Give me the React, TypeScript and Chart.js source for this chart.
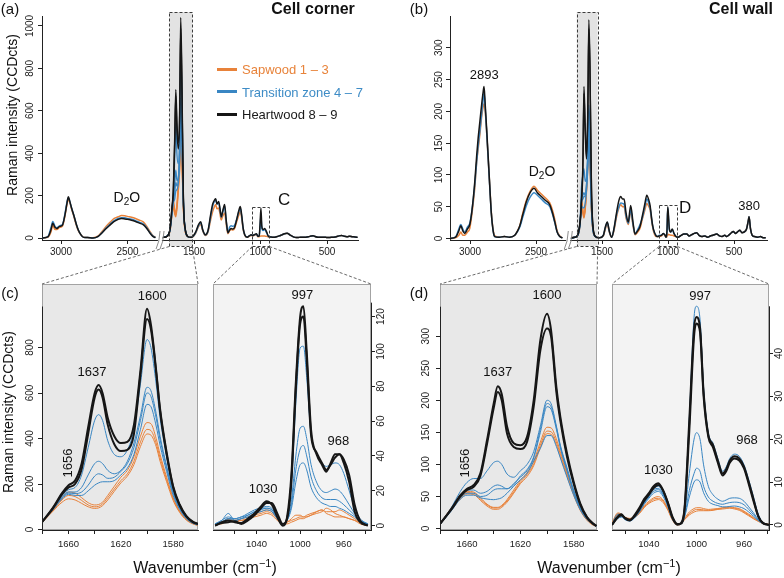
import React, { useEffect, useRef, useState } from 'react';
import { Chart, registerables } from 'chart.js';

Chart.register(...registerables);

const FONT = '"Liberation Sans", Arial, Helvetica, sans-serif';
const ORANGE = '#E8823A';
const BLUE = '#3986C3';
const BLACK = '#161616';

// ---------- top panel (a): rows [wavenumber, heartwood, transition, sapwood]
const TOPA_LEFT = [
  [3145, 0, 0, 0], [3100, 5, 5, 3], [3075, 40, 50, 30], [3062, 70, 78, 60], [3045, 50, 55, 40],
  [3032, 45, 48, 40], [3010, 55, 58, 50], [2990, 60, 62, 55], [2970, 110, 115, 105], [2955, 165, 170, 160],
  [2945, 195, 190, 180], [2935, 175, 175, 170], [2920, 140, 140, 135], [2905, 110, 110, 105], [2885, 65, 65, 60],
  [2870, 38, 38, 35], [2850, 15, 15, 15], [2830, 3, 3, 4], [2800, 2, 2, 2], [2760, 0, 0, 1],
  [2720, 8, 8, 10], [2690, 25, 27, 32], [2660, 45, 48, 55], [2630, 62, 66, 75], [2600, 78, 82, 92],
  [2570, 88, 92, 100], [2545, 92, 96, 106], [2520, 90, 95, 105], [2500, 88, 92, 102], [2470, 84, 88, 98],
  [2440, 78, 82, 92], [2410, 70, 74, 84], [2380, 62, 66, 75], [2355, 45, 48, 55], [2330, 22, 25, 30],
  [2310, 8, 10, 12], [2290, 2, 2, 3],
];
// rows [wavenumber, K1, K2, B1, B2, B3, B4, O1, O2, O3]
const TOPA_BOX = [
  [1740, 2, 2, 2, 2, 2, 2, 2, 2, 2],
  [1700, 10, 10, 10, 9, 9, 9, 8, 8, 8],
  [1680, 45, 44, 42, 40, 39, 38, 38, 36, 34],
  [1665, 150, 145, 135, 128, 124, 120, 128, 118, 110],
  [1656, 220, 210, 195, 180, 172, 165, 178, 162, 148],
  [1645, 480, 450, 380, 255, 215, 185, 135, 122, 112],
  [1637, 700, 670, 540, 320, 262, 222, 118, 108, 100],
  [1628, 540, 500, 390, 270, 245, 228, 162, 150, 140],
  [1618, 450, 420, 350, 285, 275, 258, 250, 235, 222],
  [1608, 600, 560, 500, 420, 400, 370, 360, 335, 315],
  [1600, 1040, 990, 880, 660, 635, 590, 505, 470, 450],
  [1592, 800, 750, 700, 540, 520, 480, 420, 400, 380],
  [1580, 200, 190, 185, 175, 170, 160, 150, 142, 135],
  [1565, 40, 38, 37, 35, 34, 32, 30, 28, 27],
  [1545, 5, 5, 5, 5, 5, 5, 5, 5, 5],
];
const TOPA_RIGHT = [
  [1545, 5, 5, 5], [1520, 3, 3, 3], [1490, 25, 22, 20], [1465, 65, 60, 55], [1450, 77, 72, 65],
  [1435, 40, 38, 35], [1415, 15, 14, 12], [1395, 35, 32, 28], [1375, 110, 100, 85], [1360, 160, 150, 125],
  [1345, 180, 175, 150], [1337, 185, 182, 158], [1328, 160, 160, 138], [1315, 172, 168, 142], [1305, 140, 135, 115],
  [1295, 100, 98, 85], [1283, 130, 125, 105], [1270, 158, 150, 118], [1258, 85, 80, 65], [1245, 25, 25, 20],
  [1232, 38, 52, 35], [1220, 45, 58, 40], [1208, 42, 55, 38], [1195, 50, 60, 45], [1180, 85, 85, 75],
  [1165, 125, 120, 105], [1152, 148, 140, 125], [1142, 110, 105, 95], [1130, 45, 42, 38], [1118, 14, 14, 12],
  [1100, 4, 4, 3], [1085, 10, 10, 8], [1070, 15, 14, 12], [1060, 12, 12, 10], [1050, 14, 14, 12],
  [1040, 18, 16, 14], [1030, 20, 18, 16], [1020, 8, 8, 6], [1010, 10, 8, 6], [1004, 60, 45, 8],
  [997, 140, 105, 10], [990, 55, 45, 10], [980, 40, 35, 10], [968, 45, 40, 9], [955, 30, 25, 8],
  [940, 8, 8, 5], [920, 5, 5, 4], [900, 3, 3, 3], [880, 6, 6, 6], [860, 10, 10, 10],
  [840, 15, 15, 15], [820, 20, 20, 20], [800, 22, 22, 22], [780, 15, 15, 15], [760, 8, 8, 8],
  [740, 3, 3, 3], [720, 2, 2, 2], [700, 4, 4, 4], [680, 3, 3, 3], [660, 4, 4, 4],
  [640, 6, 6, 6], [620, 9, 9, 9], [605, 11, 11, 11], [590, 7, 7, 7], [570, 4, 4, 4],
  [550, 3, 3, 3], [530, 4, 4, 4], [510, 3, 3, 3], [490, 2, 2, 2], [470, 3, 3, 3],
  [450, 4, 4, 4], [430, 6, 6, 6], [410, 10, 10, 10], [390, 12, 12, 12], [370, 8, 8, 8],
  [350, 6, 6, 6], [330, 8, 8, 8], [310, 6, 6, 6], [290, 5, 5, 5], [270, 3, 3, 3],
];

// ---------- top panel (b)
const TOPB_LEFT = [
  [3154, 0, 0, 0], [3110, 2, 2, 1], [3085, 12, 15, 5], [3070, 20, 22, 10], [3055, 12, 15, 5],
  [3040, 8, 10, 5], [3020, 15, 18, 10], [3002, 22, 24, 16], [2985, 45, 45, 40], [2964, 90, 85, 80],
  [2950, 130, 120, 120], [2939, 157, 145, 140], [2925, 185, 170, 165], [2910, 215, 200, 195], [2900, 232, 220, 208],
  [2894, 239, 230, 212], [2885, 210, 205, 200], [2875, 175, 170, 170], [2864, 134, 130, 130], [2850, 80, 78, 80],
  [2839, 40, 40, 42], [2825, 12, 12, 14], [2813, 3, 3, 4], [2780, 2, 2, 2], [2740, 3, 3, 3],
  [2700, 2, 2, 2], [2661, 5, 5, 5], [2640, 12, 11, 12], [2623, 20, 18, 20], [2600, 38, 34, 40],
  [2573, 58, 52, 60], [2545, 72, 65, 74], [2515, 79, 72, 82], [2490, 72, 68, 76], [2460, 66, 62, 70],
  [2430, 60, 56, 64], [2396, 53, 50, 56], [2375, 40, 38, 44], [2358, 26, 25, 30], [2340, 10, 10, 12],
  [2320, 3, 3, 4], [2300, 1, 1, 1],
];
const TOPB_BOX = [
  [1740, 1, 1, 1, 1, 1, 1, 1, 1, 1],
  [1700, 2, 2, 2, 2, 2, 2, 2, 2, 2],
  [1680, 8, 8, 8, 7, 7, 6, 7, 6, 6],
  [1665, 30, 28, 32, 28, 26, 24, 28, 26, 24],
  [1656, 60, 56, 80, 62, 56, 52, 62, 58, 54],
  [1645, 120, 110, 100, 68, 62, 48, 45, 42, 40],
  [1637, 239, 228, 110, 72, 66, 48, 36, 34, 32],
  [1628, 180, 170, 90, 68, 66, 55, 48, 46, 44],
  [1618, 130, 125, 95, 85, 82, 75, 78, 75, 72],
  [1608, 200, 190, 140, 130, 125, 110, 120, 115, 110],
  [1600, 344, 330, 210, 200, 195, 150, 165, 158, 152],
  [1592, 280, 270, 170, 160, 155, 125, 135, 130, 125],
  [1580, 80, 76, 60, 55, 52, 45, 48, 46, 44],
  [1565, 12, 12, 10, 10, 9, 8, 9, 8, 8],
  [1545, 2, 2, 2, 2, 2, 2, 2, 2, 2],
];
const TOPB_RIGHT = [
  [1545, 2, 2, 2], [1520, 1, 1, 1], [1490, 5, 5, 4], [1475, 18, 17, 15], [1460, 26, 25, 22],
  [1445, 12, 11, 10], [1427, 2, 2, 2], [1410, 15, 14, 12], [1389, 42, 38, 35], [1372, 60, 50, 48],
  [1358, 66, 56, 53], [1345, 62, 55, 50], [1333, 62, 54, 50], [1318, 40, 35, 32], [1301, 26, 24, 22],
  [1283, 52, 45, 42], [1265, 25, 22, 20], [1250, 7, 7, 6], [1230, 12, 14, 10], [1212, 19, 22, 16],
  [1195, 35, 32, 30], [1175, 55, 50, 45], [1161, 68, 62, 55], [1145, 60, 55, 50], [1136, 52, 48, 45],
  [1120, 25, 24, 22], [1111, 15, 14, 12], [1090, 4, 4, 3], [1080, 3, 3, 3], [1066, 4, 5, 3],
  [1050, 5, 5, 4], [1035, 8, 8, 7], [1025, 6, 6, 5], [1015, 2, 2, 2], [1008, 12, 10, 3],
  [1002, 50, 48, 7], [996, 35, 30, 6], [990, 15, 14, 6], [980, 10, 10, 5], [968, 15, 14, 5],
  [955, 8, 8, 4], [940, 3, 3, 3], [925, 2, 2, 2], [900, 5, 5, 5], [880, 7, 7, 7],
  [858, 7, 7, 7], [840, 4, 4, 4], [820, 6, 6, 6], [800, 8, 8, 8], [783, 9, 9, 9],
  [765, 5, 5, 5], [745, 3, 3, 3], [720, 4, 4, 4], [700, 2, 2, 2], [680, 4, 4, 4],
  [660, 5, 5, 5], [631, 7, 7, 7], [610, 4, 4, 4], [590, 3, 3, 3], [570, 5, 5, 5],
  [555, 3, 3, 3], [535, 6, 6, 6], [520, 9, 9, 9], [505, 11, 11, 11], [490, 8, 8, 8],
  [475, 10, 10, 10], [455, 13, 13, 13], [440, 9, 9, 9], [425, 10, 10, 10], [405, 15, 15, 15],
  [390, 30, 30, 30], [386, 34, 34, 34], [375, 15, 15, 15], [362, 5, 5, 5], [345, 3, 3, 3],
  [320, 2, 2, 2], [300, 3, 3, 3], [280, 1, 1, 1], [260, 1, 1, 1],
];

// ---------- zoom panels: rows [wavenumber, K1, K2, B1, B2, B3, B4, O1, O2, O3]
const ZC_LEFT = [
  [1680, 35, 35, 35, 35, 34, 34, 34, 33, 33],
  [1672, 95, 93, 92, 90, 88, 86, 85, 82, 80],
  [1665, 160, 155, 150, 145, 140, 135, 140, 130, 120],
  [1660, 195, 185, 175, 165, 160, 155, 165, 150, 135],
  [1655, 215, 200, 185, 165, 158, 150, 160, 145, 130],
  [1650, 290, 265, 240, 185, 165, 150, 140, 128, 115],
  [1645, 450, 420, 360, 240, 195, 170, 118, 108, 100],
  [1640, 600, 580, 480, 290, 235, 195, 108, 100, 93],
  [1637, 635, 615, 505, 300, 245, 205, 110, 102, 95],
  [1634, 600, 580, 480, 290, 240, 210, 120, 112, 105],
  [1630, 490, 460, 390, 260, 225, 210, 150, 140, 130],
  [1625, 410, 375, 330, 245, 230, 215, 190, 178, 168],
  [1620, 380, 345, 320, 260, 255, 240, 230, 215, 205],
  [1615, 385, 350, 350, 300, 290, 270, 260, 245, 235],
  [1610, 460, 420, 440, 380, 360, 330, 320, 300, 285],
  [1605, 700, 680, 640, 500, 480, 440, 410, 385, 365],
  [1600, 970, 925, 835, 625, 600, 550, 470, 440, 420],
  [1597, 900, 880, 800, 610, 585, 540, 465, 435, 415],
  [1593, 700, 690, 640, 510, 490, 455, 400, 380, 365],
  [1590, 530, 520, 490, 410, 395, 370, 330, 315, 300],
  [1585, 340, 330, 320, 280, 270, 255, 230, 220, 210],
  [1580, 190, 185, 180, 165, 160, 150, 140, 135, 128],
  [1575, 110, 105, 102, 95, 92, 88, 82, 78, 75],
  [1570, 60, 58, 56, 52, 50, 48, 46, 44, 42],
  [1565, 35, 33, 32, 30, 29, 28, 27, 26, 25],
  [1561, 25, 24, 23, 22, 21, 20, 20, 19, 18],
];
const ZC_RIGHT = [
  [1078, 0, 0, 1, 1, 1, 1, 1, 1, 1],
  [1072, 2, 1.5, 3, 3, 2, 2, 2, 2, 1],
  [1066, 3, 2, 7, 5, 4, 4, 4, 3, 3],
  [1060, 2, 2.5, 3, 4, 4, 3, 3, 3, 2],
  [1054, 1.5, 1, 4, 5, 5, 4, 4, 3, 3],
  [1048, 4, 3, 6, 7, 6, 5, 5, 4, 4],
  [1042, 7, 6, 8, 9, 8, 7, 7, 6, 5],
  [1036, 11, 10, 10, 10, 9, 8, 8, 7, 6],
  [1031, 14, 13, 11, 10, 10, 9, 9, 8, 7],
  [1026, 12, 13, 10, 9, 9, 8, 8, 7, 6],
  [1021, 5, 7, 5, 5, 4, 4, 4, 4, 3],
  [1016, 0, 1, 1, 1, 1, 1, 1, 1, 1],
  [1012, 5, 4, 5, 4, 3, 3, 2, 2, 1],
  [1008, 30, 26, 24, 15, 12, 10, 3, 4, 2],
  [1004, 82, 78, 70, 40, 32, 25, 4, 6, 3],
  [1000, 120, 116, 102, 56, 44, 35, 5, 6, 4],
  [997, 126, 120, 103, 57, 46, 36, 5, 5, 4],
  [994, 100, 95, 85, 50, 40, 32, 6, 5, 5],
  [990, 55, 52, 52, 35, 28, 22, 7, 6, 6],
  [985, 41, 42, 42, 25, 20, 16, 8, 7, 8],
  [980, 35, 36, 36, 20, 16, 13, 9, 8, 9],
  [976, 31, 32, 34, 19, 15, 12, 8, 10, 7],
  [972, 36, 35, 35, 20, 15, 11, 8, 9, 6],
  [968, 41, 39, 36, 21, 15, 11, 8, 7, 5],
  [964, 41, 41, 35, 20, 14, 10, 9, 6, 5],
  [960, 36, 38, 30, 17, 12, 9, 8, 5, 5],
  [955, 25, 29, 20, 12, 9, 7, 6, 4, 4],
  [950, 8, 12, 10, 7, 6, 5, 4, 3, 3],
  [945, 2, 3, 4, 3, 3, 2, 2, 2, 1],
  [938, 0, 0, 1, 1, 1, 1, 1, 1, 0],
];
const ZD_LEFT = [
  [1680, 8, 8, 8, 8, 7, 7, 8, 7, 7],
  [1672, 30, 29, 32, 30, 28, 27, 32, 30, 28],
  [1665, 52, 50, 58, 52, 48, 46, 50, 48, 46],
  [1660, 62, 60, 72, 60, 55, 52, 58, 56, 54],
  [1655, 68, 65, 78, 60, 55, 52, 57, 55, 53],
  [1650, 86, 82, 78, 55, 50, 48, 48, 46, 44],
  [1645, 138, 132, 90, 58, 52, 46, 38, 37, 35],
  [1640, 195, 188, 103, 66, 60, 45, 33, 32, 30],
  [1637, 222, 213, 105, 68, 62, 46, 33, 32, 30],
  [1634, 210, 200, 100, 66, 62, 48, 36, 35, 33],
  [1630, 159, 148, 85, 62, 62, 55, 45, 43, 41],
  [1625, 133, 127, 80, 68, 70, 66, 60, 57, 55],
  [1620, 130, 124, 90, 82, 80, 76, 75, 72, 70],
  [1615, 143, 135, 100, 92, 90, 86, 87, 84, 81],
  [1610, 200, 190, 120, 112, 110, 105, 105, 101, 98],
  [1605, 294, 278, 160, 155, 150, 125, 135, 130, 126],
  [1600, 335, 312, 200, 195, 190, 145, 158, 152, 148],
  [1597, 310, 300, 195, 190, 186, 145, 157, 151, 147],
  [1593, 221, 213, 160, 158, 155, 128, 140, 135, 131],
  [1590, 174, 168, 130, 128, 126, 110, 120, 116, 112],
  [1585, 117, 112, 95, 92, 90, 80, 88, 85, 82],
  [1580, 73, 70, 60, 58, 57, 52, 56, 54, 52],
  [1575, 39, 37, 33, 32, 31, 29, 30, 29, 28],
  [1570, 18, 17, 16, 15, 15, 14, 14, 13, 13],
  [1565, 7, 7, 6, 6, 6, 6, 6, 5, 5],
  [1563, 4, 4, 4, 4, 4, 4, 4, 4, 4],
];
const ZD_RIGHT = [
  [1071, 0, 0, 0, 0.2, 0.1, 0.1, 0.5, 0.4, 0.3],
  [1066, 2, 1.8, 2, 2.5, 1.8, 1.5, 2.8, 2.6, 2.4],
  [1063, 2.5, 2.2, 2.5, 2.2, 2, 1.8, 2.5, 2.4, 2.2],
  [1060, 1.5, 1.6, 1.5, 1.5, 1.3, 1.2, 1.8, 1.7, 1.6],
  [1056, 1, 1.2, 1, 1, 1, 0.9, 1.5, 1.4, 1.3],
  [1052, 2.3, 2, 2, 2, 1.8, 1.6, 2, 1.9, 1.8],
  [1048, 4, 3.6, 3.5, 3.3, 3.2, 3, 3, 2.8, 2.6],
  [1044, 6, 5.6, 5.5, 5.2, 5, 4.8, 4.5, 4.2, 4],
  [1040, 7.4, 7, 7, 6.8, 6.5, 6.2, 5.5, 5.2, 5],
  [1036, 9, 8.6, 8.5, 8.2, 7.8, 7.4, 6.3, 6, 5.6],
  [1032, 9.7, 9.3, 9, 8.5, 8.2, 7.8, 6.6, 6.2, 5.9],
  [1028, 8, 8, 7.5, 7.2, 7, 6.6, 5.8, 5.5, 5.2],
  [1024, 5, 5.2, 4.8, 4.6, 4.4, 4.2, 3.8, 3.6, 3.4],
  [1020, 1.5, 1.8, 1.5, 1.4, 1.3, 1.2, 1.2, 1.1, 1],
  [1016, 0, 0.2, 0.2, 0.1, 0.1, 0.1, 0.1, 0.1, 0],
  [1013, 0.4, 0.3, 0.4, 0.3, 0.3, 0.2, 0.4, 0.3, 0.2],
  [1010, 4, 3.5, 4, 2.5, 2, 1.8, 1.5, 1.3, 1.2],
  [1006, 24.5, 22, 25, 12, 8, 6.5, 3, 2.6, 2.3],
  [1002, 46, 44, 48.5, 20, 12, 10, 3.8, 3.4, 3],
  [1000, 48.5, 47, 51, 21.5, 13.2, 10.5, 4, 3.6, 3.2],
  [997, 46, 45, 48, 20, 12.5, 10, 4, 3.6, 3.3],
  [994, 31, 30, 32, 14, 9, 7.5, 3.8, 3.5, 3.3],
  [990, 21, 20.5, 21.5, 9, 6.5, 5.5, 3.6, 3.4, 3.3],
  [986, 18.6, 18, 19, 7, 5.5, 4.8, 3.7, 3.5, 3.4],
  [982, 15, 14.5, 15.5, 6, 5, 4.5, 3.8, 3.7, 3.6],
  [978, 12, 11.5, 12.5, 5.5, 4.8, 4.2, 4, 3.9, 3.7],
  [975, 13, 12.5, 13.5, 5.8, 5, 4.2, 4.1, 4, 3.8],
  [972, 15, 14.5, 15.5, 6.2, 5.2, 4.3, 4.2, 4, 3.9],
  [968, 16, 15.5, 16.5, 6.3, 5.3, 4.4, 4, 3.9, 3.7],
  [964, 15.5, 15, 16, 6.2, 5.2, 4.2, 3.8, 3.6, 3.4],
  [960, 13.6, 13.2, 14, 5.5, 4.7, 3.8, 3.2, 3, 2.8],
  [956, 10, 9.5, 10.5, 4.2, 3.6, 3, 2.5, 2.3, 2.1],
  [952, 6, 5.5, 6.5, 2.8, 2.4, 2, 1.7, 1.5, 1.4],
  [948, 2, 2, 2.5, 1.3, 1.1, 1, 1, 0.9, 0.8],
  [944, 0.4, 0.4, 0.5, 0.4, 0.3, 0.3, 0.4, 0.3, 0.3],
  [939, 0, 0, 0, 0, 0, 0, 0.1, 0.1, 0],
];

// ---------- axis ticks / labels
const TOP_TICKS = [3000, 2500, 1500, 1000, 500];
const ZOOM_LEFT_TICKS = [1680, 1660, 1640, 1620, 1600, 1580];
const ZOOM_LEFT_LABELS = [1660, 1620, 1580];
const ZOOM_RIGHT_TICKS = [1060, 1040, 1020, 1000, 980, 960, 940];
const ZOOM_RIGHT_LABELS = [1040, 1000, 960];
const YT_A = [0, 200, 400, 600, 800, 1000];
const YT_B = [0, 50, 100, 150, 200, 250, 300];
const YT_CL = [0, 200, 400, 600, 800];
const YT_CR = [0, 20, 40, 60, 80, 100, 120];
const YT_DL = [0, 50, 100, 150, 200, 250, 300];
const YT_DR = [0, 10, 20, 30, 40];

// zoomed ranges marked in the overview spectra [from, to, boxTop]
const ZOOM_A = [1686, 1513];
const ZOOM_C = [1062, 934, 146];
const ZOOM_B = [1692, 1533];
const ZOOM_D = [1068, 929, 52];

const BREAK_SHIFT = 500;
const disp = (w: number) => (w > 2000 ? w - BREAK_SHIFT : w);
const undisp = (d: number) => (d > 1750 ? d + BREAK_SHIFT : d);

const D2O = [{ t: 'D' }, { t: '2', sub: true }, { t: 'O' }];
const NOTES_A = [
  { w: 2505, v: 190, parts: D2O, size: 14 },
  { w: 823, v: 178, parts: [{ t: 'C' }], size: 17 },
];
const NOTES_B = [
  { w: 2893, v: 257, parts: [{ t: '2893' }], size: 13 },
  { w: 2455, v: 105, parts: D2O, size: 14 },
  { w: 871, v: 48, parts: [{ t: 'D' }], size: 17 },
  { w: 386, v: 51, parts: [{ t: '380' }], size: 13 },
];
const NOTES_CL = [
  { w: 1596, v: 1026, parts: [{ t: '1600' }], size: 13 },
  { w: 1642, v: 692, parts: [{ t: '1637' }], size: 13 },
  { w: 1660, v: 292, parts: [{ t: '1656' }], size: 13, rot: true },
];
const NOTES_CR = [
  { w: 998, v: 132, parts: [{ t: '997' }], size: 13 },
  { w: 965, v: 48.6, parts: [{ t: '968' }], size: 13 },
  { w: 1034, v: 21, parts: [{ t: '1030' }], size: 13 },
];
const NOTES_DL = [
  { w: 1600, v: 363, parts: [{ t: '1600' }], size: 13 },
  { w: 1637, v: 244, parts: [{ t: '1637' }], size: 13 },
  { w: 1661.5, v: 102, parts: [{ t: '1656' }], size: 13, rot: true },
];
const NOTES_DR = [
  { w: 997, v: 53.4, parts: [{ t: '997' }], size: 13 },
  { w: 957.5, v: 19.6, parts: [{ t: '968' }], size: 13 },
  { w: 1032, v: 12.8, parts: [{ t: '1030' }], size: 13 },
];

// ---------- layout (canvas placement + plot area inside canvas)
const LAYOUT: Record<string, any> = {
  a: { left: 0, top: 0, W: 392, H: 270, L: 42, T: 16, R: 358, B: 240 },
  b: { left: 392, top: 0, W: 392, H: 270, L: 58, T: 16, R: 375, B: 240 },
  cl: { left: 0, top: 270, W: 205, H: 308, L: 42, T: 14, R: 198, B: 260 },
  cr: { left: 205, top: 270, W: 187, H: 308, L: 8, T: 14, R: 166, B: 260, yRight: true },
  dl: { left: 392, top: 270, W: 213, H: 308, L: 48, T: 14, R: 205, B: 260 },
  dr: { left: 605, top: 270, W: 179, H: 308, L: 7, T: 14, R: 164, B: 260, yRight: true },
};

const ds = (data: any[], color: string, width: number) => ({
  data,
  borderColor: color,
  borderWidth: width,
  pointRadius: 0,
  pointHoverRadius: 0,
  fill: false,
  cubicInterpolationMode: 'monotone',
});

function topDatasets(left: number[][], box: number[][], right: number[][]) {
  const pts = (rows: number[][], c: number) => rows.map((r) => ({ x: disp(r[0]), y: r[c] }));
  return [
    ds(pts(left, 1), BLACK, 1.5),
    ds(pts(box, 1), BLACK, 1.4),
    ds(pts(box, 2), BLACK, 1.4),
    ds(pts(right, 1), BLACK, 1.5),
    ds(pts(left, 2), BLUE, 1.5),
    ...[3, 4, 5, 6].map((c) => ds(pts(box, c), BLUE, 1.3)),
    ds(pts(right, 2), BLUE, 1.5),
    ds(pts(left, 3), ORANGE, 1.5),
    ...[7, 8, 9].map((c) => ds(pts(box, c), ORANGE, 1.3)),
    ds(pts(right, 3), ORANGE, 1.5),
  ];
}

function zoomDatasets(rows: number[][]) {
  const pts = (c: number) => rows.map((r) => ({ x: r[0], y: r[c] }));
  return [
    ds(pts(1), BLACK, 2),
    ds(pts(2), BLACK, 2),
    ...[3, 4, 5, 6].map((c) => ds(pts(c), BLUE, 1)),
    ...[7, 8, 9].map((c) => ds(pts(c), ORANGE, 1)),
  ];
}

function drawParts(ctx: any, parts: any[], size: number) {
  const subSize = Math.round(size * 0.72);
  const widths = parts.map((p) => {
    ctx.font = `${p.sub ? subSize : size}px ${FONT}`;
    return ctx.measureText(p.t).width;
  });
  let x = -widths.reduce((a: number, b: number) => a + b, 0) / 2;
  ctx.textAlign = 'left';
  ctx.textBaseline = 'middle';
  parts.forEach((p, i) => {
    ctx.font = `${p.sub ? subSize : size}px ${FONT}`;
    ctx.fillText(p.t, x, p.sub ? size * 0.34 : 0);
    x += widths[i];
  });
}

function makeDecor(d: any) {
  return {
    id: 'decor',
    beforeDraw(chart: any) {
      const { ctx, chartArea: ca, scales } = chart;
      ctx.save();
      if (d.bg) {
        ctx.fillStyle = d.bg;
        ctx.fillRect(ca.left, ca.top, ca.right - ca.left, ca.bottom - ca.top);
        ctx.strokeStyle = '#a3a3a3';
        ctx.lineWidth = 1;
        ctx.strokeRect(ca.left + 0.5, ca.top + 0.5, ca.right - ca.left - 1, ca.bottom - ca.top - 1);
      }
      if (d.shade) {
        const xa = scales.x.getPixelForValue(d.shade[0]);
        const xb = scales.x.getPixelForValue(d.shade[1]);
        ctx.fillStyle = '#e3e3e3';
        ctx.fillRect(xa, ca.top - 4, xb - xa, ca.bottom - ca.top + 10);
      }
      ctx.restore();
    },
    afterDraw(chart: any) {
      const { ctx, chartArea: ca, scales } = chart;
      const xs = scales.x;
      const ys = scales.y;
      ctx.save();
      ctx.strokeStyle = '#3c3c3c';
      ctx.lineWidth = 1;
      ctx.setLineDash([3, 2]);
      for (const b of d.boxes || []) {
        const xa = Math.round(xs.getPixelForValue(b[0])) + 0.5;
        const xb = Math.round(xs.getPixelForValue(b[1])) + 0.5;
        const top = Math.round(b[2] == null ? ca.top - 4 : ys.getPixelForValue(b[2])) + 0.5;
        const bot = Math.round(ca.bottom + 6) + 0.5;
        ctx.strokeRect(xa, top, xb - xa, bot - top);
      }
      ctx.setLineDash([]);
      if (d.breakAt != null) {
        const x = xs.getPixelForValue(d.breakAt);
        const y = ca.bottom;
        ctx.fillStyle = '#fff';
        ctx.beginPath();
        ctx.moveTo(x - 5, y + 9);
        ctx.lineTo(x - 1, y - 9);
        ctx.lineTo(x + 3, y - 9);
        ctx.lineTo(x - 1, y + 9);
        ctx.closePath();
        ctx.fill();
        ctx.strokeStyle = '#808080';
        ctx.lineWidth = 0.9;
        for (const off of [-3, 1]) {
          ctx.beginPath();
          ctx.moveTo(x + off - 2, y + 9);
          ctx.quadraticCurveTo(x + off + 1.5, y + 2, x + off + 2, y - 9);
          ctx.stroke();
        }
      }
      if (d.yLine != null) {
        const x = Math.round(d.yRight ? ca.right : ca.left) + 0.5;
        ctx.strokeStyle = '#222';
        ctx.lineWidth = 1;
        ctx.beginPath();
        ctx.moveTo(x, ca.bottom);
        ctx.lineTo(x, ys.getPixelForValue(d.yLine));
        ctx.stroke();
      }
      ctx.fillStyle = '#222';
      ctx.font = `${d.ySize}px ${FONT}`;
      ctx.textAlign = 'center';
      ctx.textBaseline = 'middle';
      for (const t of ys.ticks) {
        const y = ys.getPixelForValue(t.value);
        const x = d.yRight ? ca.right + d.yOff : ca.left - d.yOff;
        ctx.save();
        ctx.translate(x, y);
        ctx.rotate(-Math.PI / 2);
        ctx.fillText(String(t.value), 0, 0);
        ctx.restore();
      }
      ctx.fillStyle = '#111';
      for (const n of d.notes || []) {
        ctx.save();
        ctx.translate(xs.getPixelForValue(n.x), ys.getPixelForValue(n.y));
        if (n.rot) ctx.rotate(-Math.PI / 2);
        drawParts(ctx, n.parts, n.size);
        ctx.restore();
      }
      ctx.restore();
    },
  };
}

function buildConfig(s: any) {
  const lay = LAYOUT[s.key];
  return {
    type: 'line',
    data: { datasets: s.datasets },
    options: {
      responsive: false,
      animation: false,
      events: [],
      layout: {
        padding: { top: lay.T, right: lay.yRight ? 0 : lay.W - lay.R, left: lay.yRight ? lay.L : 0, bottom: 0 },
      },
      plugins: { legend: { display: false }, tooltip: { enabled: false } },
      scales: {
        x: {
          type: 'linear',
          reverse: true,
          min: s.xMin,
          max: s.xMax,
          position: 'bottom',
          afterBuildTicks: (sc: any) => {
            sc.ticks = s.xTicks.map((v: number) => ({ value: v }));
          },
          afterFit: (sc: any) => {
            sc.height = lay.H - lay.B;
          },
          ticks: {
            autoSkip: false,
            maxRotation: 0,
            minRotation: 0,
            padding: s.xPad,
            color: '#222',
            font: { family: FONT, size: s.xFont },
            callback: (v: number) => s.xLabel(v),
          },
          grid: { display: true, drawOnChartArea: false, drawTicks: true, tickLength: 4, color: '#222', lineWidth: 1 },
          border: { display: true, color: '#222', width: 1 },
        },
        y: {
          type: 'linear',
          min: s.yMin,
          max: s.yMax,
          position: lay.yRight ? 'right' : 'left',
          afterBuildTicks: (sc: any) => {
            sc.ticks = s.yTicks.map((v: number) => ({ value: v }));
          },
          afterFit: (sc: any) => {
            sc.width = lay.yRight ? lay.W - lay.R : lay.L;
          },
          ticks: { display: false },
          grid: { display: true, drawOnChartArea: false, drawTicks: true, tickLength: 4, color: '#222', lineWidth: 1 },
          border: { display: s.decor.yLine == null, color: '#222', width: 1 },
        },
      },
    },
    plugins: [makeDecor(s.decor)],
  };
}

const topNotes = (notes: any[]) => notes.map((n) => ({ ...n, x: disp(n.w), y: n.v }));
const zoomNotes = (notes: any[]) => notes.map((n) => ({ ...n, x: n.w, y: n.v }));
const zoomLabel = (labels: number[]) => (v: number) => (labels.includes(v) ? String(v) : '');

const SPECS = [
  {
    key: 'a',
    datasets: topDatasets(TOPA_LEFT, TOPA_BOX, TOPA_RIGHT),
    xMin: disp(267), xMax: disp(3143), xTicks: TOP_TICKS.map(disp), xLabel: (v: number) => String(undisp(v)),
    xPad: 2, xFont: 10, yMin: -9.4, yMax: 1047, yTicks: YT_A,
    decor: {
      shade: [disp(ZOOM_A[0]), disp(ZOOM_A[1])],
      boxes: [[disp(ZOOM_A[0]), disp(ZOOM_A[1])], [ZOOM_C[0], ZOOM_C[1], ZOOM_C[2]]],
      breakAt: 1748, ySize: 10, yOff: 12, notes: topNotes(NOTES_A),
    },
  },
  {
    key: 'b',
    datasets: topDatasets(TOPB_LEFT, TOPB_BOX, TOPB_RIGHT),
    xMin: disp(250), xMax: disp(3152), xTicks: TOP_TICKS.map(disp), xLabel: (v: number) => String(undisp(v)),
    xPad: 2, xFont: 10, yMin: -2.4, yMax: 350, yTicks: YT_B,
    decor: {
      shade: [disp(ZOOM_B[0]), disp(ZOOM_B[1])],
      boxes: [[disp(ZOOM_B[0]), disp(ZOOM_B[1])], [ZOOM_D[0], ZOOM_D[1], ZOOM_D[2]]],
      breakAt: 1748, ySize: 10, yOff: 11, notes: topNotes(NOTES_B),
    },
  },
  {
    key: 'cl',
    datasets: zoomDatasets(ZC_LEFT),
    xMin: 1561, xMax: 1680.3, xTicks: ZOOM_LEFT_TICKS, xLabel: zoomLabel(ZOOM_LEFT_LABELS),
    xPad: 5, xFont: 9.5, yMin: -2, yMax: 1079, yTicks: YT_CL,
    decor: { bg: '#e8e8e8', yLine: 980, ySize: 10, yOff: 12, notes: zoomNotes(NOTES_CL) },
  },
  {
    key: 'cr',
    datasets: zoomDatasets(ZC_RIGHT),
    xMin: 935, xMax: 1080, xTicks: ZOOM_RIGHT_TICKS, xLabel: zoomLabel(ZOOM_RIGHT_LABELS),
    xPad: 5, xFont: 9.5, yMin: -2.5, yMax: 138.7, yTicks: YT_CR,
    decor: { bg: '#f3f3f3', yLine: 128, yRight: true, ySize: 10, yOff: 10, notes: zoomNotes(NOTES_CR) },
  },
  {
    key: 'dl',
    datasets: zoomDatasets(ZD_LEFT),
    xMin: 1562.5, xMax: 1680.3, xTicks: ZOOM_LEFT_TICKS, xLabel: zoomLabel(ZOOM_LEFT_LABELS),
    xPad: 5, xFont: 9.5, yMin: -2.3, yMax: 381.4, yTicks: YT_DL,
    decor: { bg: '#e8e8e8', yLine: 346, ySize: 10, yOff: 14, notes: zoomNotes(NOTES_DL) },
  },
  {
    key: 'dr',
    datasets: zoomDatasets(ZD_RIGHT),
    xMin: 939, xMax: 1071, xTicks: ZOOM_RIGHT_TICKS, xLabel: zoomLabel(ZOOM_RIGHT_LABELS),
    xPad: 5, xFont: 9.5, yMin: -1.2, yMax: 56.2, yTicks: YT_DR,
    decor: { bg: '#f3f3f3', yLine: 51, yRight: true, ySize: 10, yOff: 10, notes: zoomNotes(NOTES_DR) },
  },
];

const LINKS = [
  { top: 'a', range: ZOOM_A, broken: true, bottom: 'cl' },
  { top: 'a', range: ZOOM_C, broken: false, bottom: 'cr' },
  { top: 'b', range: ZOOM_B, broken: true, bottom: 'dl' },
  { top: 'b', range: ZOOM_D, broken: false, bottom: 'dr' },
];

function Label(props: any) {
  const { x, y, size, bold, color, rot, children } = props;
  return (
    <div
      style={{
        position: 'absolute',
        left: x,
        top: y,
        transform: `translate(-50%, -50%)${rot ? ' rotate(-90deg)' : ''}`,
        fontSize: size,
        fontWeight: bold ? 700 : 400,
        color: color || '#111',
        whiteSpace: 'nowrap',
        lineHeight: 1,
        fontFamily: FONT,
      }}
    >
      {children}
    </div>
  );
}

function LegendRow(props: any) {
  const { y, color, text, textColor } = props;
  return (
    <>
      <div style={{ position: 'absolute', left: 217, top: y - 1.5, width: 20, height: 3, background: color }} />
      <div
        style={{
          position: 'absolute', left: 242, top: y, transform: 'translateY(-50%)', fontSize: 13,
          lineHeight: 1, color: textColor, whiteSpace: 'nowrap', fontFamily: FONT,
        }}
      >
        {text}
      </div>
    </>
  );
}

export default function App() {
  const refs = useRef<Record<string, HTMLCanvasElement | null>>({});
  const [links, setLinks] = useState<number[][]>([]);

  useEffect(() => {
    const charts: Record<string, any> = {};
    SPECS.forEach((s) => {
      const cv = refs.current[s.key];
      if (cv) charts[s.key] = new Chart(cv, buildConfig(s) as any);
    });
    const segs: number[][] = [];
    LINKS.forEach((lk) => {
      const tc = charts[lk.top];
      const bc = charts[lk.bottom];
      if (!tc || !bc) return;
      const tl = LAYOUT[lk.top];
      const bl = LAYOUT[lk.bottom];
      const conv = (w: number) => (lk.broken ? disp(w) : w);
      const xa = tl.left + tc.scales.x.getPixelForValue(conv(lk.range[0]));
      const xb = tl.left + tc.scales.x.getPixelForValue(conv(lk.range[1]));
      const y0 = tl.top + Math.round(tc.chartArea.bottom + 6) + 0.5;
      const y1 = bl.top + bc.chartArea.top;
      segs.push([xa, y0, bl.left + bc.chartArea.left, y1]);
      segs.push([xb, y0, bl.left + bc.chartArea.right, y1]);
    });
    setLinks(segs);
    return () => {
      Object.values(charts).forEach((c: any) => c.destroy());
    };
  }, []);

  return (
    <div
      style={{
        position: 'absolute', left: 0, top: 0, width: 784, height: 578, overflow: 'hidden',
        background: '#fff', fontFamily: FONT,
      }}
    >
      {SPECS.map((s) => {
        const lay = LAYOUT[s.key];
        return (
          <canvas
            key={s.key}
            ref={(el) => {
              refs.current[s.key] = el;
            }}
            width={lay.W}
            height={lay.H}
            style={{ position: 'absolute', left: lay.left, top: lay.top, width: lay.W, height: lay.H }}
          />
        );
      })}
      <svg width={784} height={578} style={{ position: 'absolute', left: 0, top: 0, pointerEvents: 'none' }}>
        {links.map((l, i) => (
          <line key={i} x1={l[0]} y1={l[1]} x2={l[2]} y2={l[3]} stroke="#444" strokeWidth={0.8} strokeDasharray="3 2" />
        ))}
      </svg>
      <Label x={10} y={8} size={15}>(a)</Label>
      <Label x={313} y={9} size={16} bold>Cell corner</Label>
      <Label x={419} y={8} size={15}>(b)</Label>
      <Label x={741} y={9} size={16} bold>Cell wall</Label>
      <Label x={10} y={292} size={15}>(c)</Label>
      <Label x={419} y={292} size={15}>(d)</Label>
      <Label x={12} y={115} size={14} rot>Raman intensity (CCDcts)</Label>
      <Label x={8} y={412} size={14} rot>Raman intensity (CCDcts)</Label>
      <Label x={205} y={568} size={16}>
        Wavenumber (cm<sup style={{ fontSize: 11, verticalAlign: 6, lineHeight: 0 }}>−1</sup>)
      </Label>
      <Label x={609} y={568} size={16}>
        Wavenumber (cm<sup style={{ fontSize: 11, verticalAlign: 6, lineHeight: 0 }}>−1</sup>)
      </Label>
      <LegendRow y={69} color={ORANGE} textColor="#E8833A" text="Sapwood 1 – 3" />
      <LegendRow y={91.5} color={BLUE} textColor="#3E8CC6" text="Transition zone 4 – 7" />
      <LegendRow y={114} color={BLACK} textColor="#1a1a1a" text="Heartwood 8 – 9" />
    </div>
  );
}
